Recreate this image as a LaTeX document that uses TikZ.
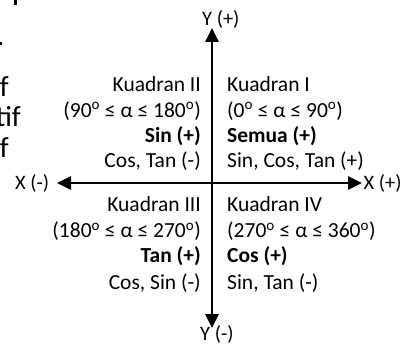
\documentclass[tikz,border=0pt]{standalone}
\usepackage{fontspec}
\setmainfont{Carlito}
\usetikzlibrary{arrows.meta}
\newcommand{\dg}{\textsuperscript{o}}
\begin{document}
\begin{tikzpicture}[x=1pt,y=-1pt,
  axisline/.style={line width=2.6pt, {Triangle[length=14pt,width=13pt]}-{Triangle[length=14pt,width=13pt]}},
  axlabel/.style={inner sep=0pt, font=\fontsize{20.5}{24}\selectfont},
  qtxt/.style={inner sep=0pt, font=\fontsize{21.5}{25}\selectfont},
  qbold/.style={inner sep=0pt, font=\fontsize{21.5}{25}\selectfont\bfseries},
  frag/.style={inner sep=0pt, font=\fontsize{29}{31}\selectfont}]
\useasboundingbox (0,0) rectangle (401,344);
% axes
\coordinate (ytop) at (212,28);
\coordinate (ybot) at (212,328);
\coordinate (xleft) at (57,183);
\coordinate (xright) at (362,183);
\draw[axisline] (ybot) -- (ytop);
\draw[axisline] (xleft) -- (xright);
% axis labels
\node[axlabel, anchor=base west] (yp) at (202,26) {Y (+)};
\node[axlabel, anchor=base west] (ym) at (200,340) {Y (-)};
\node[axlabel, anchor=base west] (xm) at (15,190) {X (-)};
\node[axlabel, anchor=base west] (xp) at (363.5,190) {X (+)};
% quadrant I
\node[qtxt, anchor=base west] (q1a) at (227,92) {Kuadran I};
\node[qtxt, anchor=base west] (q1b) at (227,117.5) {(0\dg{} ≤ α ≤ 90\dg)};
\node[qbold, anchor=base west] (q1c) at (227,143) {Semua (+)};
\node[qtxt, anchor=base west] (q1d) at (227,168) {Sin, Cos, Tan (+)};
% quadrant II
\node[qtxt, anchor=base east] (q2a) at (201,92) {Kuadran II};
\node[qtxt, anchor=base east] (q2b) at (201,117.5) {(90\dg{} ≤ α ≤ 180\dg)};
\node[qbold, anchor=base east] (q2c) at (201,143) {Sin (+)};
\node[qtxt, anchor=base east] (q2d) at (201,168) {Cos, Tan (-)};
% quadrant III
\node[qtxt, anchor=base east] (q3a) at (201,212) {Kuadran III};
\node[qtxt, anchor=base east] (q3b) at (201,238) {(180\dg{} ≤ α ≤ 270\dg)};
\node[qbold, anchor=base east] (q3c) at (201,263) {Tan (+)};
\node[qtxt, anchor=base east] (q3d) at (201,289) {Cos, Sin (-)};
% quadrant IV
\node[qtxt, anchor=base west] (q4a) at (227,212) {Kuadran IV};
\node[qtxt, anchor=base west] (q4b) at (227,238) {(270\dg{} ≤ α ≤ 360\dg)};
\node[qbold, anchor=base west] (q4c) at (227,263) {Cos (+)};
\node[qtxt, anchor=base west] (q4d) at (227,289) {Sin, Tan (-)};
% cut-off fragments at left edge
\node[frag, anchor=base east] (f1) at (9,97) {f};
\node[frag, anchor=base east] (f2) at (21,127) {tif};
\node[frag, anchor=base east] (f3) at (9,158) {f};
\fill (14,0) rectangle (16.5,5);
\fill (0,42) rectangle (1.5,45);
\end{tikzpicture}
\end{document}
